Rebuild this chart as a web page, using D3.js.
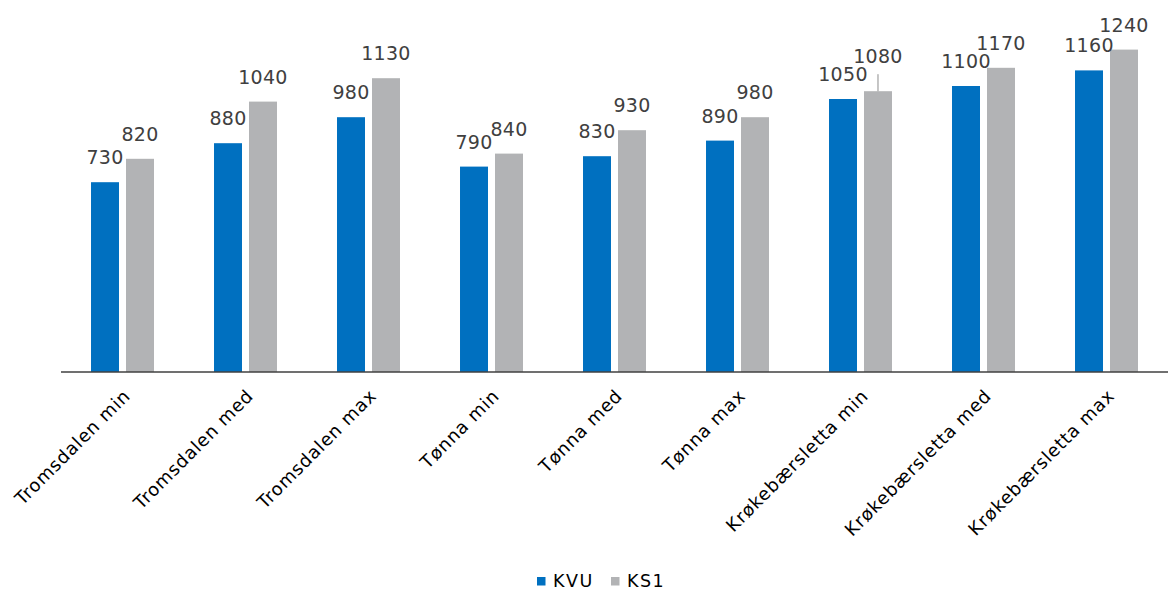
<!DOCTYPE html>
<html>
<head>
<meta charset="utf-8">
<script src="https://cdn.jsdelivr.net/npm/d3@7/dist/d3.min.js"></script>
<style>
  html, body { margin: 0; padding: 0; background: #fff; }
  svg { display: block; font-family: "DejaVu Sans", Lato, sans-serif; }
</style>
</head>
<body>
<svg id="chart" width="1169" height="592"></svg>
<script>
// Cost estimates per alternative (KVU vs KS1)
const categories = [
  "Tromsdalen min", "Tromsdalen med", "Tromsdalen max",
  "Tønna min", "Tønna med", "Tønna max",
  "Krøkebærsletta min", "Krøkebærsletta med", "Krøkebærsletta max"
];
const seriesNames = ["KVU", "KS1"];
const kvuValues = [730, 880, 980, 790, 830, 890, 1050, 1100, 1160];
const ks1Values = [820, 1040, 1130, 840, 930, 980, 1080, 1170, 1240];
const seriesColors = ["#0070C0", "#B2B3B5"];

const rows = categories.map((c, i) => ({
  category: c,
  values: [
    { series: "KVU", value: kvuValues[i] },
    { series: "KS1", value: ks1Values[i] }
  ]
}));

const svg = d3.select("#chart");
const baseY = 372;

const x0 = d3.scaleBand()
  .domain(categories)
  .range([61, 1168])
  .paddingInner(0.488)
  .paddingOuter(0.244);

const x1 = d3.scaleBand()
  .domain(seriesNames)
  .range([0, x0.bandwidth()])
  .paddingInner(0.2);

const y = d3.scaleLinear().domain([0, 1400]).range([baseY, 8]);
const color = d3.scaleOrdinal().domain(seriesNames).range(seriesColors);

// label that is lifted above its bar with a leader line
const liftedLabel = { category: "Krøkebærsletta min", series: "KS1", lift: 10 };

const groups = svg.append("g")
  .selectAll("g")
  .data(rows)
  .join("g")
  .attr("transform", d => `translate(${x0(d.category)},0)`);

groups.selectAll("rect")
  .data(d => d.values)
  .join("rect")
  .attr("x", d => x1(d.series))
  .attr("y", d => y(d.value))
  .attr("width", x1.bandwidth())
  .attr("height", d => baseY - y(d.value))
  .attr("fill", d => color(d.series));

groups.each(function(row) {
  const g = d3.select(this);
  row.values.forEach(v => {
    const lifted = row.category === liftedLabel.category && v.series === liftedLabel.series;
    const cx = x1(v.series) + x1.bandwidth() / 2;
    const ty = y(v.value) - 18 - (lifted ? liftedLabel.lift : 0);
    if (lifted) {
      g.append("line")
        .attr("x1", cx).attr("x2", cx)
        .attr("y1", ty + 11).attr("y2", y(v.value))
        .attr("stroke", "#8c8c8c").attr("stroke-width", 1);
    }
    g.append("text")
      .attr("x", cx)
      .attr("y", ty)
      .attr("text-anchor", "middle")
      .attr("font-size", 19)
      .attr("letter-spacing", 0.3)
      .attr("fill", "#404040")
      .text(v.value);
  });
});

// Category axis
svg.append("line")
  .attr("x1", 61).attr("x2", 1168)
  .attr("y1", baseY).attr("y2", baseY)
  .attr("stroke", "#404040").attr("stroke-width", 1.5);

svg.append("g")
  .selectAll("text")
  .data(categories)
  .join("text")
  .attr("transform", d => `translate(${x0(d) + x0.bandwidth() / 2 + 9},${baseY + 25}) rotate(-45)`)
  .attr("text-anchor", "end")
  .attr("font-size", 18)
  .attr("letter-spacing", 0.8)
  .attr("fill", "#000")
  .text(d => d);

// Legend
const legend = svg.append("g");
const legendItems = [{ name: "KVU", x: 537 }, { name: "KS1", x: 611 }];
legendItems.forEach(item => {
  legend.append("rect")
    .attr("x", item.x).attr("y", 577)
    .attr("width", 8.5).attr("height", 8.5)
    .attr("fill", color(item.name));
  legend.append("text")
    .attr("x", item.x + 16).attr("y", 587)
    .attr("font-size", 17.5)
    .attr("letter-spacing", 1.5)
    .attr("fill", "#000")
    .text(item.name);
});
</script>
</body>
</html>
